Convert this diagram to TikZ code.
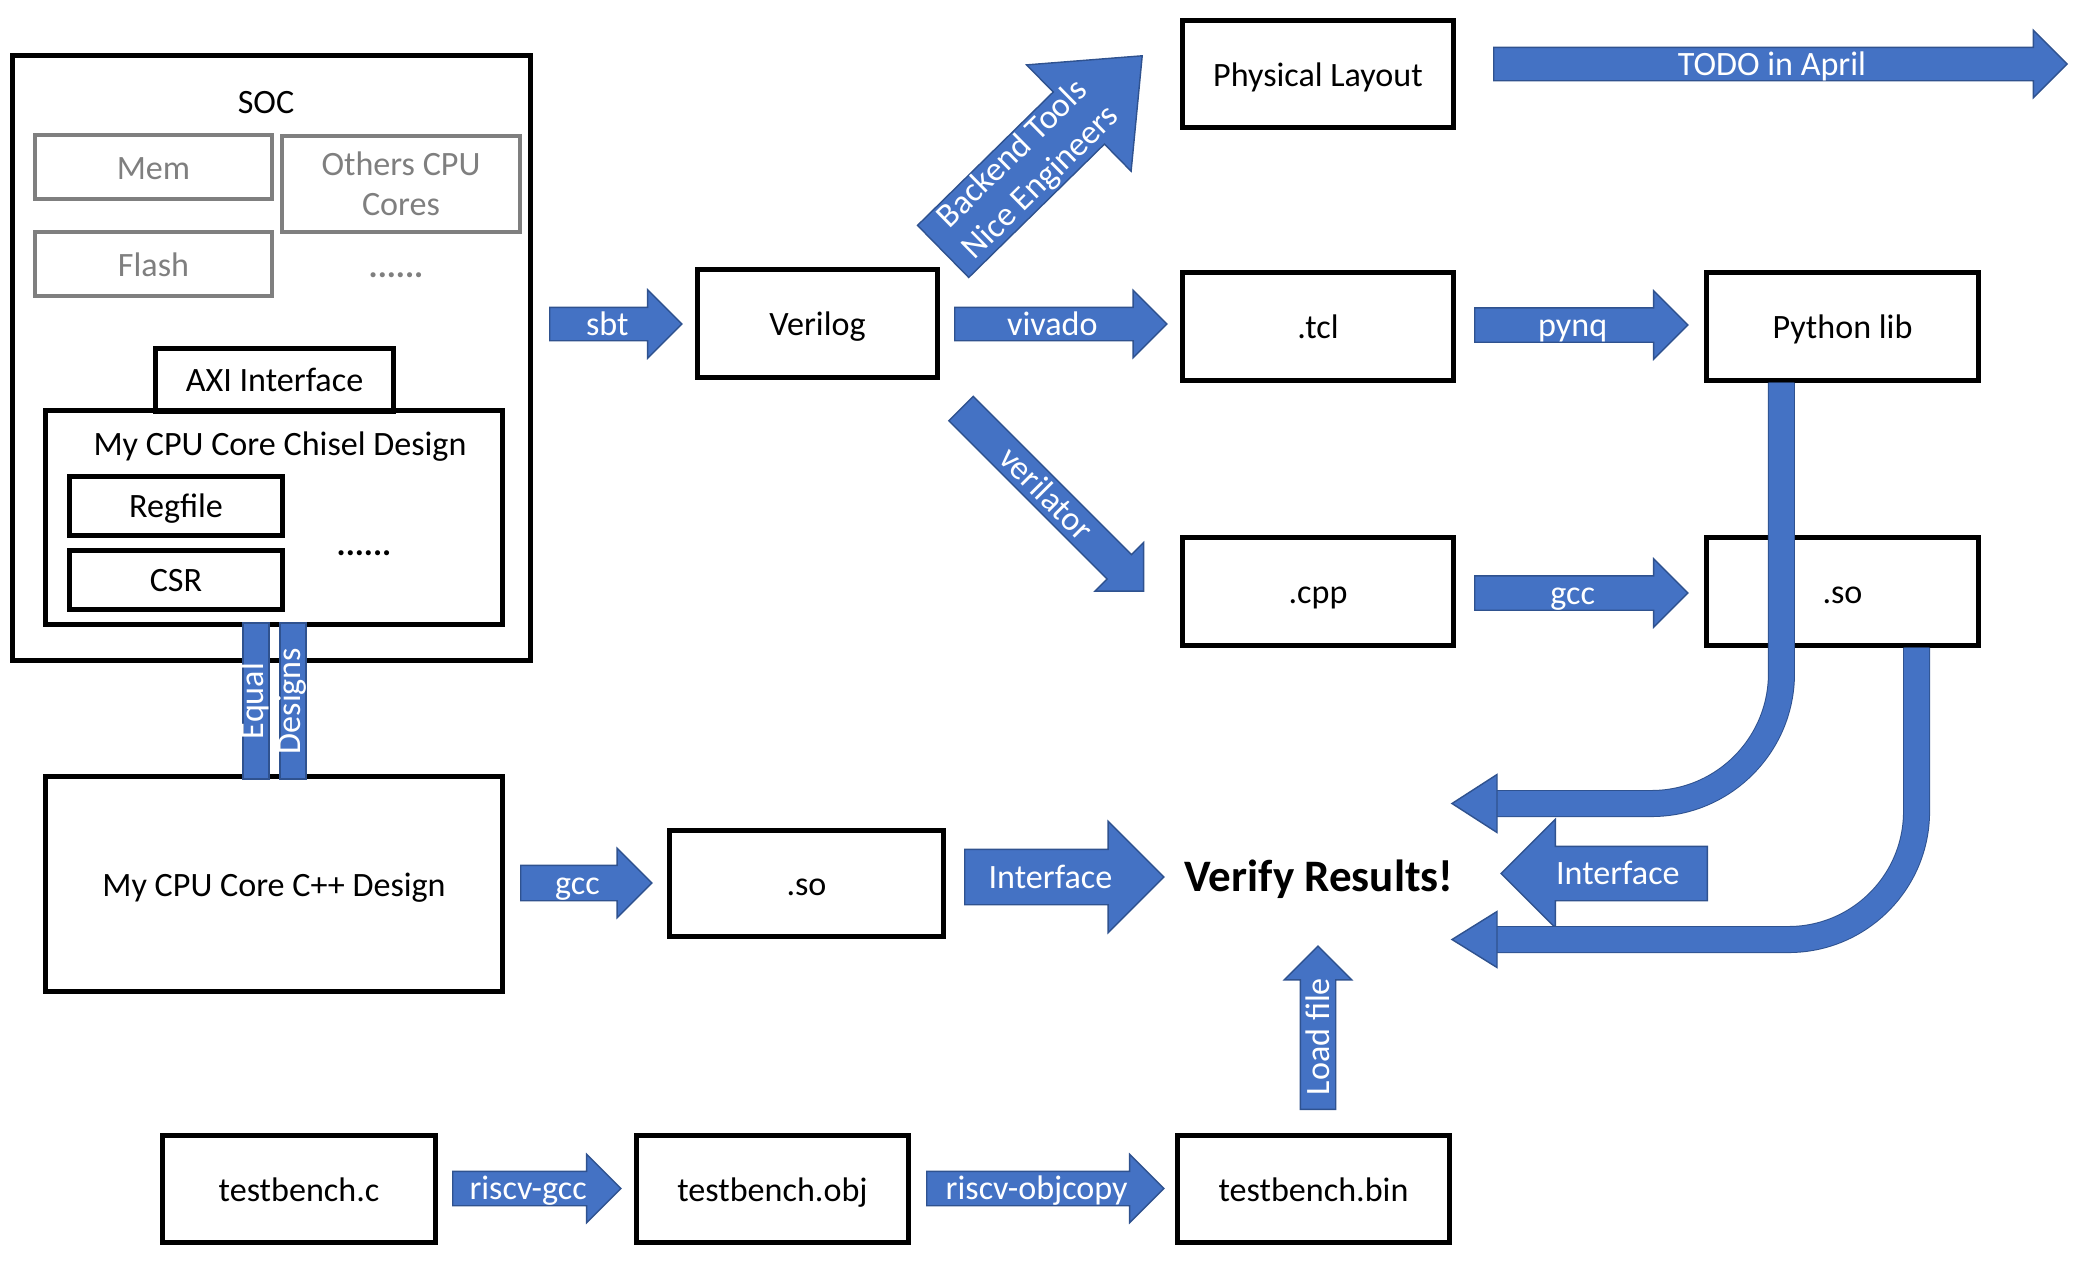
\documentclass[tikz,border=0pt]{standalone}
\usepackage{fontspec}
\setmainfont{Carlito}
\usetikzlibrary{shapes.arrows}
\definecolor{flowblue}{HTML}{4472C4}
\definecolor{flowedge}{HTML}{2F528F}
\definecolor{boxgrey}{HTML}{7F7F7F}
\newcommand{\labelfont}{\fontsize{9.7pt}{11.4pt}\selectfont}

\begin{document}
\begin{tikzpicture}[x=0.01cm,y=-0.01cm,
  box/.style={draw=black,line width=0.05cm,inner sep=0pt,font=\labelfont,
    text height=0.29cm,text depth=0.05cm,minimum width=2.7cm,minimum height=1.07cm},
  greybox/.style={box,draw=boxgrey,text=boxgrey,line width=0.045cm},
  word/.style={inner sep=0pt,font=\labelfont},
  flowbase/.style={single arrow,anchor=tail,fill=flowblue,draw=flowedge,line width=0.4pt,
    text=white,font=\labelfont,inner xsep=0pt,single arrow tip angle=90,
    single arrow head extend=0.17cm},
  flow/.style={flowbase,text height=0.255cm,text depth=0.035cm,inner ysep=0.015cm},
  bar/.style={fill=flowblue,draw=flowedge,line width=0.4pt,text=white,font=\labelfont,
    inner sep=0pt,text height=0.2cm,text depth=0.06cm,
    minimum height=0.26cm,minimum width=1.56cm,rotate=90},
  pipe/.style={draw=flowblue,line width=0.25cm,preaction={draw=flowedge,line width=0.27cm}},
  pipetip/.style={fill=flowblue,draw=flowedge,line width=0.4pt},
]
\useasboundingbox (0,0) rectangle (2078,1262);

% SOC with the chisel core:
\path (271.5,358) node[box,minimum width=5.17cm,minimum height=6.04cm] (soc) {};
\path (266,102.5) node[word] (socname) {SOC};
\path (153.5,167) node[greybox,minimum width=2.37cm,minimum height=0.64cm] (mem) {Mem};
\path (401,184) node[greybox,minimum width=2.38cm,minimum height=0.96cm,
  align=center,text height=,text depth=] (others) {Others CPU\\Cores};
\path (153.5,264) node[greybox,minimum width=2.37cm,minimum height=0.64cm] (flash) {Flash};
\path (396,277) node[word,anchor=base,text=boxgrey] (moresoc) {\textbf{......}};
\path (274.5,379.5) node[box,minimum width=2.37cm,minimum height=0.63cm] (axi) {AXI Interface};
\path (274,517.5) node[box,minimum width=4.56cm,minimum height=2.13cm] (chisel) {};
\path (280,446.5) node[word] (chiselname) {My CPU Core Chisel Design};
\path (176,505.5) node[box,minimum width=2.12cm,minimum height=0.59cm] (regfile) {Regfile};
\path (176,579.5) node[box,minimum width=2.12cm,minimum height=0.59cm] (csr) {CSR};
\path (364,555) node[word,anchor=base] (morecore) {\textbf{......}};

% C++ model and verification:
\path (274,884) node[box,minimum width=4.56cm,minimum height=2.14cm] (cppdesign) {My CPU Core C++ Design};
\path (256,701) node[bar] (equal) {Equal};
\path (293,701) node[bar] (designs) {Designs};
\path (806.5,883.5) node[box,minimum width=2.73cm,minimum height=1.05cm] (soleft) {.so};
\path (1319,879) node[word,font=\fontsize{12.8pt}{15pt}\selectfont\bfseries] (verify) {Verify Results!};
\path (520,883) node[flow,minimum height=1.31cm,inner ysep=0.025cm] (gccleft) {gcc};
\path (964,877) node[flow,minimum height=1.99cm,inner ysep=0.125cm,
  single arrow head extend=0.28cm] (ifleft) {Interface};

% testbench chain:
\path (299,1189) node[box,minimum width=2.72cm,minimum height=1.06cm] (tbc) {testbench.c};
\path (772.5,1189) node[box,minimum width=2.72cm,minimum height=1.06cm] (tbobj) {testbench.obj};
\path (1313.5,1189) node[box,minimum width=2.72cm,minimum height=1.06cm] (tbbin) {testbench.bin};
\path (452,1188.5) node[flow,minimum height=1.68cm,inner ysep=0.02cm] (rvgcc) {riscv-gcc};
\path (926,1188.5) node[flow,minimum height=2.37cm,inner ysep=0.02cm] (rvcopy) {riscv-objcopy};
\path (1318,1110) node[flow,rotate=90,minimum height=1.63cm,inner ysep=0.025cm,
  single arrow head extend=0.16cm] (loadfile) {Load file};

% verilog flow:
\path (817.5,323.5) node[box,minimum width=2.39cm] (verilog) {Verilog};
\path (1318,74) node[box,minimum height=1.06cm] (phys) {Physical Layout};
\path (1318,326.5) node[box] (tcl) {.tcl};
\path (1842.5,326.5) node[box,minimum width=2.71cm] (pylib) {Python lib};
\path (1318,591.5) node[box] (cpp) {.cpp};
\path (1842.5,591.5) node[box,minimum width=2.71cm] (soright) {.so};
\path (549,324) node[flow,minimum height=1.32cm,single arrow head extend=0.175cm] (sbt) {sbt};
\path (954,324) node[flow,minimum height=2.12cm] (vivado) {vivado};
\path (1474,325) node[flow,minimum height=2.13cm,inner ysep=0.02cm] (pynq) {pynq};
\path (1474,593) node[flow,minimum height=2.13cm,inner ysep=0.02cm] (gccright) {gcc};
\path (1493,64) node[flow,minimum height=5.73cm] (todo) {TODO in April};
\path (960.5,408) node[flow,rotate=-45,minimum height=2.58cm,inner ysep=0.02cm] (verilator) {verilator};
\path (1143,55) node[flowbase,anchor=tip,rotate=44.5,align=center,inner ysep=0.01cm,
  single arrow tip angle=80,single arrow head extend=0.38cm,minimum height=2.79cm] (backend)
  {Backend Tools\\Nice Engineers};
\path (1708,873.5) node[flow,shape border rotate=180,minimum height=2.06cm,inner ysep=0.12cm,
  single arrow head extend=0.27cm] (ifright) {Interface};

% results back to verify:
\coordinate (pyin) at (1497,803.5);
\coordinate (soin) at (1497,939.5);
\draw[pipe,rounded corners=1.3cm] ([xshift=-0.61cm]pylib.south) |- (pyin);
\filldraw[pipetip] ([yshift=0.29cm]pyin) -- ++(-45,29) -- ++(45,29) -- cycle;
\draw[pipe,rounded corners=1.28cm] ([xshift=0.74cm]soright.south) |- (soin);
\filldraw[pipetip] ([yshift=0.28cm]soin) -- ++(-45,28) -- ++(45,28) -- cycle;

\end{tikzpicture}
\end{document}
